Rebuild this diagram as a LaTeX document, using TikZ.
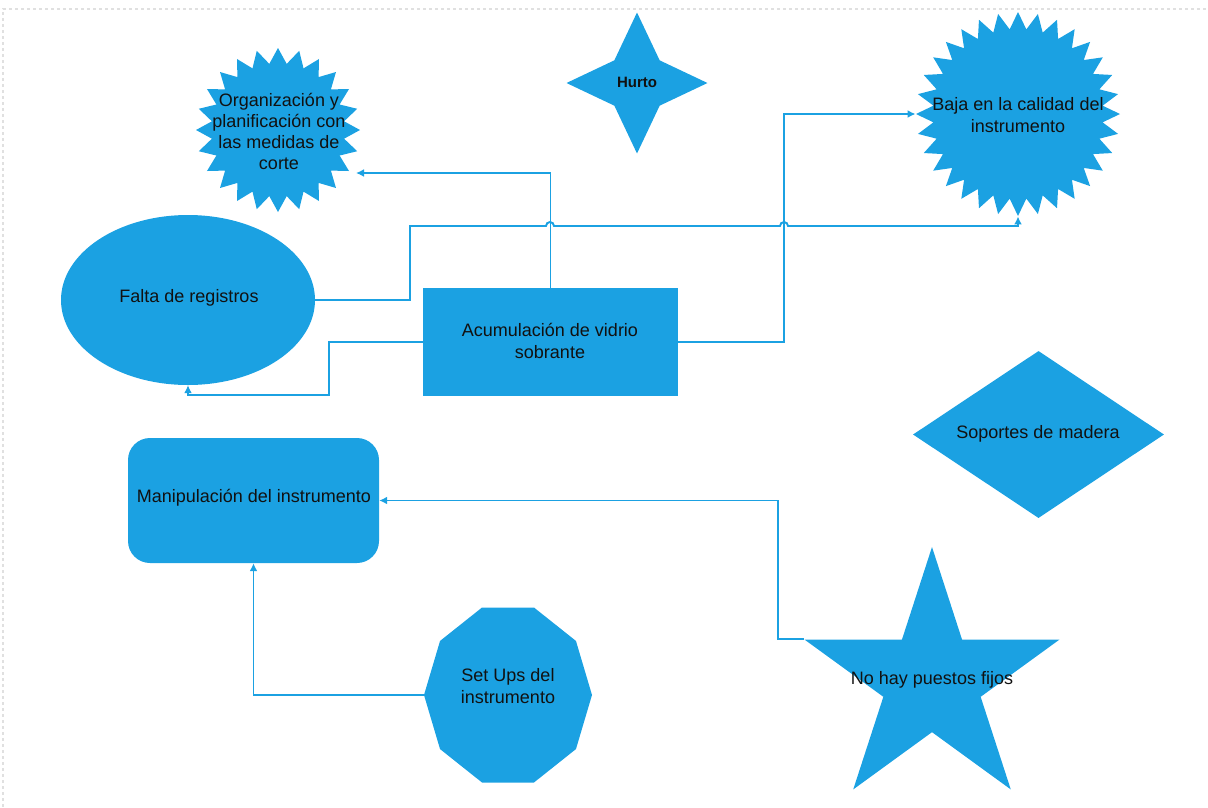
\documentclass[tikz,border=0pt]{standalone}
\usepackage{fontspec}
\setmainfont{Liberation Sans}
\usetikzlibrary{shapes.geometric,arrows.meta,calc}
\definecolor{shapeblue}{HTML}{1BA1E2}
\definecolor{linkblue}{HTML}{1BA1E2}
\definecolor{inkc}{HTML}{111111}
\begin{document}
\begin{tikzpicture}[x=1pt,y=-1pt,
  shapebox/.style={fill=shapeblue, draw=none, inner sep=0pt},
  txt/.style={text=inkc, font=\fontsize{18}{22}\selectfont, align=center, inner sep=0pt},
  conn/.style={draw=linkblue, line width=1.9pt, -{Latex[length=8pt,width=8pt]}},
]
\useasboundingbox (0,0) rectangle (1208,807);
% page frame
\draw[black!12, dashed, line width=1.5pt] (3,807) -- (3,9) -- (1208,9);

% shapes
\node[shapebox, star, star points=24, star point ratio=1.23, minimum size=164pt] (org) at (278,130) {};
\node[shapebox, star, star points=4, star point ratio=2.2, minimum size=141pt] (hurto) at (637,83) {};
\node[shapebox, star, star points=32, star point ratio=1.2, minimum size=204pt] (baja) at (1018,114) {};
\node[shapebox, ellipse, minimum width=254pt, minimum height=170pt] (falta) at (188,300) {};
\node[shapebox, rectangle, minimum width=255pt, minimum height=108pt] (acum) at (550.5,342) {};
\node[shapebox, rectangle, rounded corners=22pt, minimum width=251pt, minimum height=125pt] (manip) at (253.5,500.5) {};
\node[shapebox, diamond, minimum width=251pt, minimum height=167pt] (soportes) at (1038.5,434.5) {};
\node[inner sep=0pt, ellipse, minimum width=168pt, minimum height=184pt] (setups) at (508,695) {};
\fill[shapeblue] ($(setups.center)+(0:84 and 92)$)
  foreach \a in {36,72,...,324} { -- ($(setups.center)+(\a:84 and 92)$) } -- cycle;
\node[shapebox, star, star points=5, star point ratio=2.62, minimum size=268pt] (nohay) at (932,681) {};

% texts
\node[txt, font=\fontsize{18}{21}\selectfont] (orgtxt) at (279,131) {Organización y\\planificación con\\las medidas de\\corte};
\node[txt, font=\bfseries\fontsize{15}{18}\selectfont] (hurtotxt) at (637,82) {Hurto};
\node[txt] (bajatxt) at (1018,115) {Baja en la calidad del\\instrumento};
\node[txt] (faltatxt) at (189,298) {Falta de registros};
\node[txt] (acumtxt) at (550,341) {Acumulación de vidrio\\sobrante};
\node[txt] (maniptxt) at (254,498) {Manipulación del instrumento};
\node[txt] (soptxt) at (1038,434) {Soportes de madera};
\node[txt] (setupstxt) at (508,686) {Set Ups del\\instrumento};
\node[txt] (nohaytxt) at (932,680) {No hay puestos fijos};

% connectors (the long one hops over the two verticals it crosses)
\coordinate (orgin) at (356,173);
\draw[conn] (acum.north) |- (orgin);
\draw[conn] (falta.east) -- (410,300) -- (410,226) -- (546,226)
  arc[start angle=180, end angle=0, radius=4pt] -- (780,226)
  arc[start angle=180, end angle=0, radius=4pt] -- (1018,226) -- (baja.south);
\draw[conn] (acum.east) -- (784,342) |- (baja.west);
\draw[conn] (acum.west) -- (329,342) |- ($(falta.south)+(0,10)$) -- (falta.south);
\draw[conn] (nohay.outer point 2) -- ++(-26,0) |- (manip.east);
\draw[conn] (setups.west) -| (manip.south);
\end{tikzpicture}
\end{document}
